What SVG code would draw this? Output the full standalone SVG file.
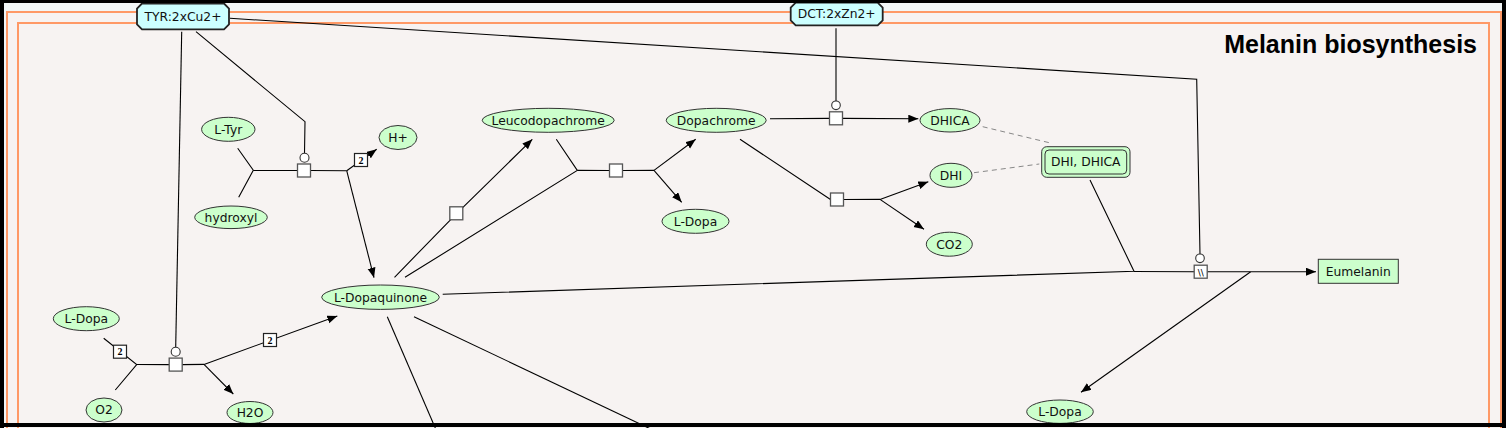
<svg xmlns="http://www.w3.org/2000/svg" width="1506" height="428" viewBox="0 0 1506 428">
<defs>
<style>
.lbl{font-family:"DejaVu Sans","Liberation Sans",sans-serif;font-size:12.3px;fill:#111;text-anchor:middle}
.sm{fill:#ccffcc;stroke:#333;stroke-width:1}
.cx{fill:#ccffff;stroke:#222;stroke-width:1.8}
.ln{fill:none;stroke:#000;stroke-width:1.1}
.arr{fill:none;stroke:#000;stroke-width:1.1;marker-end:url(#ah)}
.dash{fill:none;stroke:#888;stroke-width:1;stroke-dasharray:5,4}
.pr{fill:#fff;stroke:#555;stroke-width:1.3}
.cat{fill:#fff;stroke:#333;stroke-width:1.1}
.st{fill:#fff;stroke:#222;stroke-width:1.2}
.stt{font-family:"Liberation Serif",serif;font-weight:bold;font-size:10px;text-anchor:middle;fill:#000}
.frame{fill:#f7f3f2;stroke:#ff9966;stroke-width:2}
</style>
<marker id="ah" markerWidth="11" markerHeight="9" refX="10" refY="4" orient="auto" markerUnits="userSpaceOnUse">
<path d="M0,0 L10,4 L0,8 Z" fill="#000"/>
</marker>
</defs>
<rect x="0" y="0" width="1506" height="428" fill="#f2f6f7"/>
<rect class="frame" x="7" y="12" width="1494" height="440"/>
<rect class="frame" x="18" y="23" width="1471" height="440"/>
<text x="1477" y="53" font-family="'Liberation Sans',Arial,sans-serif" font-weight="bold" font-size="25" text-anchor="end" fill="#000">Melanin biosynthesis</text>

<g id="connectors">
<path class="ln" d="M237.7,148.3 L253.3,170.3 L238.7,197.3"/>
<path class="ln" d="M253.3,170.5 L297.5,170.5 M310.5,170.5 L346.7,170.7"/>
<path class="arr" d="M346.7,170.7 L376.7,149.3"/>
<path class="arr" d="M346.7,170.7 L374,277.7"/>
<path class="ln" d="M196,31.7 L305,121.7 L304.5,153.2"/>
<path class="ln" d="M103.7,338.3 L136.7,364.5 L115.3,390"/>
<path class="ln" d="M136.7,364.5 L169.2,364.6 M182.2,364.6 L204,364.4"/>
<path class="arr" d="M204,364.4 L233.3,394"/>
<path class="arr" d="M204,364.4 L337.3,316"/>
<path class="ln" d="M181.7,31.7 L175.7,347.3"/>
<path class="arr" d="M394.5,277.3 L456.3,213.8 L532.3,139.3"/>
<path class="ln" d="M556.3,139.3 L577.3,170.4 L405,277.3"/>
<path class="ln" d="M577.3,170.4 L609.5,170.5 M622.5,170.5 L654,170.4"/>
<path class="arr" d="M654,170.4 L695.7,139.3"/>
<path class="arr" d="M654,170.4 L681.7,202.3"/>
<path class="ln" d="M770,118.7 L829.5,118.4"/>
<path class="arr" d="M842.5,118.4 L918.3,118.7"/>
<path class="ln" d="M836,28.3 L836,101"/>
<path class="ln" d="M740,139.3 L830.5,199.5 M843.5,199.5 L880,199.4"/>
<path class="arr" d="M880,199.4 L928.3,181.7"/>
<path class="arr" d="M880,199.4 L924,229.3"/>
<path class="dash" d="M982.7,126.7 L1051.7,143.3"/>
<path class="dash" d="M974,172.7 L1039.3,164"/>
<path class="ln" d="M442.7,294.3 L1134,271.2 L1090,180"/>
<path class="ln" d="M1134,271.5 L1194.2,271.7 M1207.2,271.7 L1250.7,271.7"/>
<path class="arr" d="M1250.7,271.7 L1316,271.7"/>
<path class="arr" d="M1250.7,271.7 L1081,392.3"/>
<path class="ln" d="M230,18.3 L1196.7,79.3 L1200,254"/>
<path class="ln" d="M387.3,316.7 L437,432"/>
<path class="ln" d="M414,316.7 L657,432"/>
</g>

<g id="processes">
<g id="p1"><rect class="pr" x="297.5" y="164" width="13" height="13"/><circle class="cat" cx="304.5" cy="157.7" r="4.5"/></g>
<g id="s1"><rect class="st" x="354.5" y="153.5" width="13" height="13"/><text class="stt" x="361" y="163.5">2</text></g>
<g id="p2"><rect class="pr" x="169.2" y="358.1" width="13" height="13"/><circle class="cat" cx="175.7" cy="351.7" r="4.5"/></g>
<g id="s2"><rect class="st" x="113.5" y="345.2" width="13" height="13"/><text class="stt" x="120" y="355.2">2</text></g>
<g id="s3"><rect class="st" x="263.5" y="333.5" width="13" height="13"/><text class="stt" x="270" y="343.5">2</text></g>
<g id="p3"><rect class="pr" x="449.8" y="206.8" width="13" height="13"/></g>
<g id="p4"><rect class="pr" x="609.5" y="164" width="13" height="13"/></g>
<g id="p5"><rect class="pr" x="829.5" y="111.8" width="13" height="13"/><circle class="cat" cx="836" cy="105.3" r="4.3"/></g>
<g id="p6"><rect class="pr" x="830.5" y="193" width="13" height="13"/></g>
<g id="p7"><rect class="pr" x="1194.2" y="265.2" width="13" height="13"/><text x="1200.7" y="275.5" font-family="'DejaVu Sans',sans-serif" font-size="9" text-anchor="middle" fill="#000">\\</text><circle class="cat" cx="1200" cy="258.3" r="4.3"/></g>
</g>

<g id="n-tyr"><polygon class="cx" points="142,3.5 224,3.5 229,8.5 229,24.3 224,29.3 142,29.3 137,24.3 137,8.5"/><text class="lbl" x="183" y="20.8">TYR:2xCu2+</text></g>
<g id="n-dct"><polygon class="cx" points="795.7,2.7 877.7,2.7 882.7,7.7 882.7,20.3 877.7,25.3 795.7,25.3 790.7,20.3 790.7,7.7"/><text class="lbl" x="836.7" y="18.3">DCT:2xZn2+</text></g>
<g id="n-ltyr"><ellipse class="sm" cx="228.3" cy="129.3" rx="26.7" ry="12"/><text class="lbl" x="228.3" y="133.6">L-Tyr</text></g>
<g id="n-hydroxyl"><ellipse class="sm" cx="231" cy="217.3" rx="36.3" ry="11.3"/><text class="lbl" x="231" y="221.6">hydroxyl</text></g>
<g id="n-hplus"><ellipse class="sm" cx="398" cy="137.5" rx="19" ry="12"/><text class="lbl" x="398" y="141.8">H+</text></g>
<g id="n-ldopa1"><ellipse class="sm" cx="86.3" cy="318.7" rx="33" ry="12"/><text class="lbl" x="86.3" y="323">L-Dopa</text></g>
<g id="n-o2"><ellipse class="sm" cx="104" cy="410" rx="18" ry="12"/><text class="lbl" x="104" y="414.3">O2</text></g>
<g id="n-h2o"><ellipse class="sm" cx="250" cy="412.5" rx="23" ry="11"/><text class="lbl" x="250" y="416.8">H2O</text></g>
<g id="n-ldopaquinone"><ellipse class="sm" cx="380.5" cy="297.2" rx="58.8" ry="12.2"/><text class="lbl" x="380.5" y="301.5">L-Dopaquinone</text></g>
<g id="n-leuco"><ellipse class="sm" cx="548.2" cy="120.3" rx="66" ry="12"/><text class="lbl" x="548.2" y="124.6">Leucodopachrome</text></g>
<g id="n-dopachrome"><ellipse class="sm" cx="716.2" cy="120.3" rx="50" ry="12"/><text class="lbl" x="716.2" y="124.6">Dopachrome</text></g>
<g id="n-ldopa2"><ellipse class="sm" cx="695.5" cy="221.3" rx="33.5" ry="12"/><text class="lbl" x="695.5" y="225.6">L-Dopa</text></g>
<g id="n-dhica"><ellipse class="sm" cx="950" cy="120.3" rx="30" ry="11.7"/><text class="lbl" x="950" y="124.6">DHICA</text></g>
<g id="n-dhi"><ellipse class="sm" cx="951" cy="175.3" rx="21" ry="12"/><text class="lbl" x="951" y="179.6">DHI</text></g>
<g id="n-co2"><ellipse class="sm" cx="949.3" cy="244.2" rx="23" ry="12"/><text class="lbl" x="949.3" y="248.5">CO2</text></g>
<g id="n-dhi-dhica"><rect class="sm" x="1041.7" y="146.7" width="88.3" height="30.6" rx="5"/><rect x="1045" y="150" width="81.7" height="24" rx="4" fill="none" stroke="#333" stroke-width="1"/><text class="lbl" x="1085.8" y="166.3">DHI, DHICA</text></g>
<g id="n-eumelanin"><rect class="sm" x="1318.3" y="259.3" width="80" height="24"/><text class="lbl" x="1358.3" y="275.6">Eumelanin</text></g>
<g id="n-ldopa3"><ellipse class="sm" cx="1060" cy="411.7" rx="33.3" ry="11.7"/><text class="lbl" x="1060" y="416">L-Dopa</text></g>

<g id="border" fill="#000">
<rect x="0" y="0" width="1506" height="3"/>
<rect x="0" y="0" width="4" height="428"/>
<rect x="0" y="423" width="1506" height="4"/>
<rect x="1502" y="0" width="4" height="428"/>
</g>
</svg>
